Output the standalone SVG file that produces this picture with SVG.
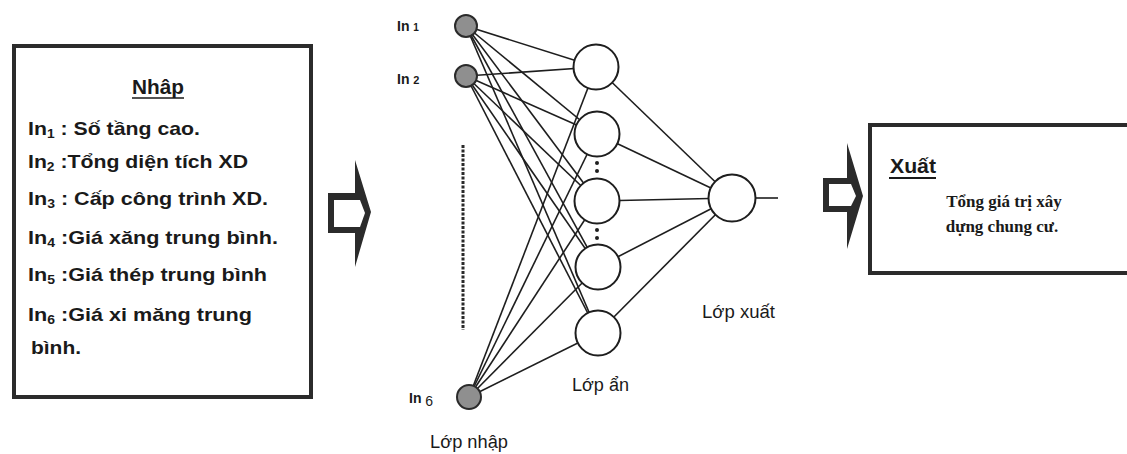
<svg xmlns="http://www.w3.org/2000/svg" width="1127" height="454" viewBox="0 0 1127 454">
<style>
.box{fill:#fff;stroke:#2b2b2b;stroke-width:4}
.t{font-family:"Liberation Sans",Arial,sans-serif;font-weight:bold;font-size:18.5px;fill:#1a1a1a}
.h{font-family:"Liberation Sans",Arial,sans-serif;font-weight:bold;font-size:20px;fill:#1a1a1a}
.s{font-family:"Liberation Serif","Times New Roman",serif;font-weight:bold;font-size:17px;fill:#1a1a1a}
.lab{font-family:"Liberation Sans",Arial,sans-serif;font-size:18px;fill:#1a1a1a}
.inl{font-family:"Liberation Sans",Arial,sans-serif;font-weight:bold;font-size:14px;fill:#1a1a1a}
.edge{stroke:#1e1e1e;stroke-width:1.6;fill:none}
.inp{fill:#8f8f8f;stroke:#2a2a2a;stroke-width:2}
.hid{fill:#fff;stroke:#1e1e1e;stroke-width:2}
.dot{fill:#1e1e1e}
</style>

<g id="input-box">
<rect class="box" x="14" y="46" width="297" height="351"/>
<text class="h" x="158" y="94" text-anchor="middle" textLength="52" lengthAdjust="spacingAndGlyphs">Nhâp</text>
<line x1="132" y1="98" x2="184" y2="98" stroke="#1a1a1a" stroke-width="1.6"/>
<text class="t" x="28" y="135" textLength="172" lengthAdjust="spacingAndGlyphs">In<tspan font-size="12" dy="3">1</tspan><tspan dy="-3"> : Số tầng cao.</tspan></text>
<text class="t" x="28" y="168" textLength="220" lengthAdjust="spacingAndGlyphs">In<tspan font-size="12" dy="3">2</tspan><tspan dy="-3"> :Tổng diện tích XD</tspan></text>
<text class="t" x="28" y="205" textLength="240" lengthAdjust="spacingAndGlyphs">In<tspan font-size="12" dy="3">3</tspan><tspan dy="-3"> : Cấp công trình XD.</tspan></text>
<text class="t" x="28" y="244" textLength="250" lengthAdjust="spacingAndGlyphs">In<tspan font-size="12" dy="3">4</tspan><tspan dy="-3"> :Giá xăng trung bình.</tspan></text>
<text class="t" x="28" y="281" textLength="239" lengthAdjust="spacingAndGlyphs">In<tspan font-size="12" dy="3">5</tspan><tspan dy="-3"> :Giá thép trung bình</tspan></text>
<text class="t" x="28" y="321" textLength="224" lengthAdjust="spacingAndGlyphs">In<tspan font-size="12" dy="3">6</tspan><tspan dy="-3"> :Giá xi măng trung</tspan></text>
<text class="t" x="31" y="354" textLength="50" lengthAdjust="spacingAndGlyphs">bình.</text>
</g>

<g id="arrow-in">
<path d="M328,193 H355 V160 L371,212 L355,267 V233 H328 Z" fill="#2b2b2b"/>
<path d="M334,200 H360 L365,213 L360,227 H334 Z" fill="#fff"/>
</g>

<g id="connectors">
<line class="edge" x1="466" y1="26" x2="596" y2="67"/>
<line class="edge" x1="466" y1="26" x2="597" y2="134"/>
<line class="edge" x1="466" y1="26" x2="597" y2="201"/>
<line class="edge" x1="466" y1="26" x2="598" y2="267"/>
<line class="edge" x1="466" y1="26" x2="598" y2="333"/>
<line class="edge" x1="466" y1="76" x2="596" y2="67"/>
<line class="edge" x1="466" y1="76" x2="597" y2="134"/>
<line class="edge" x1="466" y1="76" x2="597" y2="201"/>
<line class="edge" x1="466" y1="76" x2="598" y2="267"/>
<line class="edge" x1="466" y1="76" x2="598" y2="333"/>
<line class="edge" x1="469" y1="397" x2="596" y2="67"/>
<line class="edge" x1="469" y1="397" x2="597" y2="134"/>
<line class="edge" x1="469" y1="397" x2="597" y2="201"/>
<line class="edge" x1="469" y1="397" x2="598" y2="267"/>
<line class="edge" x1="469" y1="397" x2="598" y2="333"/>
<line class="edge" x1="596" y1="67" x2="732" y2="198"/>
<line class="edge" x1="597" y1="134" x2="732" y2="198"/>
<line class="edge" x1="597" y1="201" x2="732" y2="198"/>
<line class="edge" x1="598" y1="267" x2="732" y2="198"/>
<line class="edge" x1="598" y1="333" x2="732" y2="198"/>
<line class="edge" x1="755" y1="198" x2="778" y2="198"/>
</g>

<g id="in1"><circle class="inp" cx="466" cy="26" r="11"/><text class="inl" x="397" y="31">In <tspan font-size="10">1</tspan></text></g>
<g id="in2"><circle class="inp" cx="466" cy="76" r="11"/><text class="inl" x="397" y="84">In <tspan font-size="11">2</tspan></text></g>
<g id="in6"><circle class="inp" cx="469" cy="397" r="12"/><text class="inl" x="409" y="403" font-size="15">In <tspan font-weight="normal" font-size="14" dy="3">6</tspan></text></g>
<g id="in-dots"><line x1="463" y1="145" x2="463" y2="330" stroke="#2a2a2a" stroke-width="3" stroke-dasharray="3 1.5"/></g>

<g id="h1"><circle class="hid" cx="596" cy="67" r="22.5"/></g>
<g id="h2"><circle class="hid" cx="597" cy="134" r="22.5"/></g>
<g id="h3"><circle class="hid" cx="597" cy="201" r="22.5"/></g>
<g id="h4"><circle class="hid" cx="598" cy="267" r="22.5"/></g>
<g id="h5"><circle class="hid" cx="598" cy="333" r="22.5"/></g>
<g id="hidden-dots">
<circle class="dot" cx="597" cy="163" r="2"/><circle class="dot" cx="597" cy="171" r="2"/>
<circle class="dot" cx="597" cy="230" r="2"/><circle class="dot" cx="597" cy="238" r="2"/>
</g>
<g id="out"><circle class="hid" cx="732" cy="198" r="23.5"/></g>

<text class="lab" x="572" y="391" textLength="57" lengthAdjust="spacingAndGlyphs">Lớp ẩn</text>
<text class="lab" x="702" y="318" textLength="73" lengthAdjust="spacingAndGlyphs">Lớp xuất</text>
<text class="lab" x="430" y="448" textLength="78" lengthAdjust="spacingAndGlyphs">Lớp nhập</text>

<g id="arrow-out">
<path d="M823,178 H847 V143 L863,196 L847,249 V212 H823 Z" fill="#2b2b2b"/>
<path d="M829,184 H851 L856,196 L851,206 H829 Z" fill="#fff"/>
</g>

<g id="output-box">
<rect class="box" x="870" y="125" width="270" height="148"/>
<text class="h" x="890" y="173" textLength="46" lengthAdjust="spacingAndGlyphs">Xuất</text>
<line x1="889" y1="178" x2="936" y2="178" stroke="#1a1a1a" stroke-width="1.8"/>
<text class="s" x="1004" y="207" text-anchor="middle">Tổng giá trị xây</text>
<text class="s" x="1002" y="232" text-anchor="middle">dựng chung cư.</text>
</g>
</svg>
